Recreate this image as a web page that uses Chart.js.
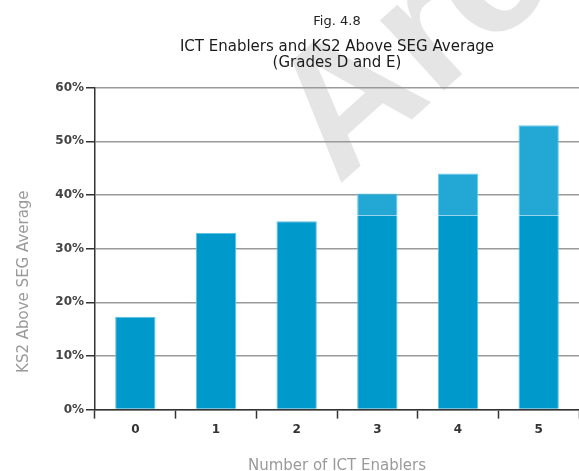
<!DOCTYPE html>
<html>
<head>
<meta charset="utf-8">
<script src="https://cdn.jsdelivr.net/npm/chart.js@4"></script>
<style>
  html, body { margin: 0; padding: 0; background: #fff; }
  #wrap { width: 579px; height: 471px; }
</style>
</head>
<body>
<div id="wrap"><canvas id="chart"></canvas></div>
<script>
// values (percent)
const categories = ["0", "1", "2", "3", "4", "5"];
const baseValues = [17.3, 32.9, 35.1, 36.2, 36.2, 36.2];
const aboveValues = [0, 0, 0, 4.1, 7.8, 16.8];
const yTicks = [0, 10, 20, 30, 40, 50, 60];

const figLabel = "Fig. 4.8";
const titleLines = ["ICT Enablers and KS2 Above SEG Average", "(Grades D and E)"];
const xTitle = "Number of ICT Enablers";
const yTitle = "KS2 Above SEG Average";
const stampText = "Archived";

const font = "'DejaVu Sans', 'Liberation Sans', Arial, sans-serif";

// grey stamp behind the chart
const stamp = {
    id: "stamp",
    beforeDraw(chart) {
        const c = chart.ctx;
        c.save();
        c.translate(338, 186);
        c.rotate(-42 * Math.PI / 180);
        c.fillStyle = "rgba(0,0,0,0.10)";
        c.font = "bold 180px 'Liberation Sans', Arial, sans-serif";
        c.textBaseline = "alphabetic";
        c.fillText(stampText, 0, 0);
        c.restore();
    }
};

// y axis title sits a little below the middle of the axis
const yAxisTitle = {
    id: "yAxisTitle",
    afterDraw(chart) {
        const a = chart.chartArea;
        const c = chart.ctx;
        c.save();
        c.translate(24, (a.top + a.bottom) / 2 + 33);
        c.rotate(-Math.PI / 2);
        c.fillStyle = "#9a9a9a";
        c.font = "15px " + font;
        c.textAlign = "center";
        c.textBaseline = "middle";
        c.fillText(yTitle, 0, 0);
        c.restore();
    }
};

new Chart(document.getElementById("chart"), {
    type: "bar",
    data: {
        labels: categories,
        datasets: [{
            label: "Base",
            data: baseValues,
            backgroundColor: "#0099cb",
            borderColor: "#5cc2e6",
            borderWidth: ctx => aboveValues[ctx.dataIndex] > 0
                ? { left: 1, right: 1, top: 0, bottom: 0 }
                : { left: 1, right: 1, top: 1, bottom: 0 },
            borderSkipped: false,
            barPercentage: 0.5,
            categoryPercentage: 1
        }, {
            label: "Above",
            data: aboveValues,
            backgroundColor: "#23a8d6",
            borderColor: "#6ccaea",
            borderWidth: { left: 1, right: 1, top: 1, bottom: 0 },
            borderSkipped: false,
            barPercentage: 0.5,
            categoryPercentage: 1
        }]
    },
    options: {
        responsive: true,
        maintainAspectRatio: false,
        animation: false,
        layout: { padding: { left: 0, right: 0, top: 0, bottom: 0 } },
        plugins: {
            legend: { display: false },
            tooltip: { enabled: false },
            title: {
                display: true,
                text: figLabel,
                fullSize: false,
                color: "#222",
                font: { family: font, size: 13, weight: "normal" },
                padding: { top: 14, bottom: 9 }
            },
            subtitle: {
                display: true,
                text: titleLines,
                fullSize: false,
                color: "#1a1a1a",
                font: { family: font, size: 15, lineHeight: 1.07 },
                padding: { top: 0, bottom: 17 }
            }
        },
        scales: {
            x: {
                stacked: true,
                offset: true,
                grid: {
                    offset: true,
                    drawOnChartArea: false,
                    drawTicks: true,
                    tickLength: 9,
                    tickColor: "#333",
                    tickWidth: 1.5
                },
                border: { color: "#333", width: 1.5 },
                ticks: {
                    color: "#333",
                    font: { family: font, size: 12, weight: "bold" },
                    padding: 4
                },
                title: {
                    display: true,
                    text: xTitle,
                    color: "#9a9a9a",
                    font: { family: font, size: 15, lineHeight: 0.7 },
                    padding: { top: 19.5, bottom: 0 }
                }
            },
            y: {
                stacked: true,
                min: 0,
                max: 60,
                afterBuildTicks: scale => {
                    scale.ticks = yTicks.map(v => ({ value: v }));
                },
                afterFit: scale => { scale.width = 95; },
                grid: {
                    color: "#9a9a9a",
                    lineWidth: 1.5,
                    tickLength: 9,
                    tickColor: "#333",
                    tickWidth: 1.5
                },
                border: { color: "#333", width: 1.5 },
                ticks: {
                    color: "#444",
                    font: { family: font, size: 12, weight: "bold" },
                    padding: 2,
                    callback: v => v + "%"
                }
            }
        }
    },
    plugins: [stamp, yAxisTitle]
});
</script>
</body>
</html>
